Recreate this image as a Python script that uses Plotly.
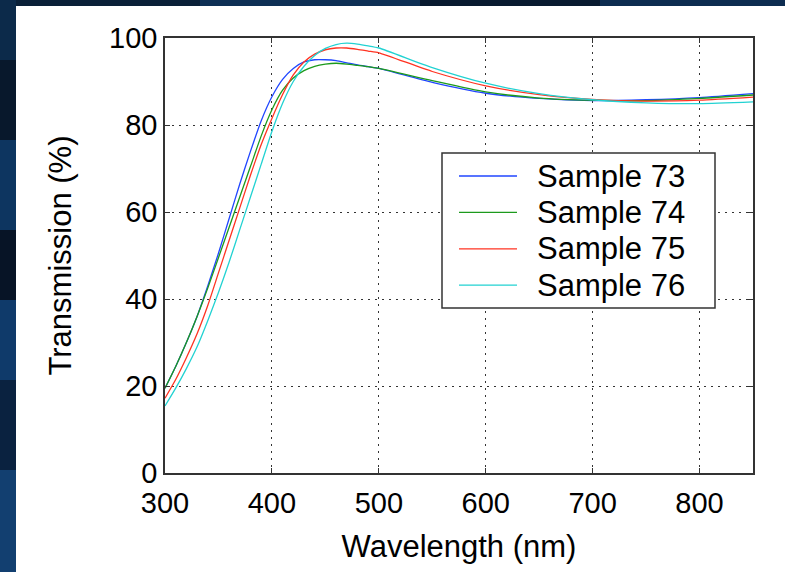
import plotly.graph_objects as go

# ---------------- data ----------------
wavelength = [300, 310, 320, 330, 340, 350, 360, 370, 380, 390, 400,
              410, 420, 430, 440, 450, 460, 470, 480, 490, 500,
              550, 600, 650, 700, 750, 800, 850]

sample_73 = [19.5, 24.5, 30.0, 36.0, 43.0, 50.5, 58.5, 66.5, 74.0, 81.0, 86.5,
             90.5, 93.0, 94.5, 95.0, 95.0, 94.8, 94.3, 93.8, 93.4, 93.0,
             89.8, 87.3, 86.1, 85.6, 85.8, 86.3, 87.2]
sample_74 = [19.5, 24.5, 30.0, 36.0, 42.5, 49.5, 56.5, 63.5, 70.5, 77.5, 83.5,
             88.0, 90.8, 92.5, 93.5, 94.0, 94.2, 94.0, 93.7, 93.4, 93.0,
             90.2, 87.6, 86.2, 85.7, 85.6, 86.1, 86.9]
sample_75 = [17.2, 21.5, 26.5, 32.0, 38.5, 46.0, 53.5, 61.0, 68.5, 75.5, 81.5,
             87.0, 91.5, 94.5, 96.3, 97.3, 97.7, 97.7, 97.4, 97.0, 96.6,
             92.3, 89.0, 87.0, 85.9, 85.5, 85.7, 86.4]
sample_76 = [15.4, 19.5, 24.0, 29.0, 35.0, 41.5, 48.5, 56.0, 63.5, 71.0, 78.5,
             85.0, 90.0, 93.5, 96.0, 97.6, 98.5, 98.8, 98.6, 98.2, 97.7,
             93.2, 89.6, 87.2, 85.8, 85.1, 84.9, 85.3]

series_names = ["Sample 73", "Sample 74", "Sample 75", "Sample 76"]
series_values = [sample_73, sample_74, sample_75, sample_76]
series_colors = ["#2046ff", "#1c9a1c", "#ff3322", "#22d2d2"]

x_ticks = [300, 400, 500, 600, 700, 800]
y_ticks = [0, 20, 40, 60, 80, 100]

# ---------------- figure ----------------
W, H = 785, 572
L, R, T, B = 165, 32, 38, 99
pw, ph = W - L - R, H - T - B


def px_to_paper_x(px):
    return (px - L) / pw


def px_to_paper_y(py):
    return (H - B - py) / ph


FONT = "Liberation Sans, Arial, Helvetica, sans-serif"
BG = "#0a1e36"

fig = go.Figure()
for name, vals, col in zip(series_names, series_values, series_colors):
    fig.add_trace(go.Scatter(
        x=wavelength, y=vals, name=name, mode="lines",
        line=dict(color=col, width=1.3, shape="spline", smoothing=0.6),
        showlegend=False,
    ))

shapes = []
# dark textured backdrop patches (left / top strips)
patches = [
    (0, 0, 16, 60, "#0c2a4a"), (0, 60, 16, 140, "#08182c"),
    (0, 140, 16, 230, "#0d3560"), (0, 230, 16, 300, "#071426"),
    (0, 300, 16, 380, "#0f3a6a"), (0, 380, 16, 470, "#0a2240"),
    (0, 470, 16, 572, "#123f70"),
    (16, 0, 200, 6, "#0a2038"), (200, 0, 420, 6, "#0e3055"),
    (420, 0, 600, 6, "#081a30"), (600, 0, 785, 6, "#0d2c50"),
]
for x0, y0, x1, y1, c in patches:
    shapes.append(dict(type="rect", xref="paper", yref="paper",
                       x0=px_to_paper_x(x0), x1=px_to_paper_x(x1),
                       y0=px_to_paper_y(y0), y1=px_to_paper_y(y1),
                       fillcolor=c, line=dict(width=0), layer="below"))
# white figure area
shapes.append(dict(type="rect", xref="paper", yref="paper",
                   x0=px_to_paper_x(16), x1=px_to_paper_x(W + 5),
                   y0=px_to_paper_y(H + 5), y1=px_to_paper_y(6),
                   fillcolor="white", line=dict(width=0), layer="below"))

# legend box (MATLAB style) built from the series lists
LG_X0, LG_X1, LG_Y0, LG_Y1 = 442, 715, 153, 308
shapes.append(dict(type="rect", xref="paper", yref="paper",
                   x0=px_to_paper_x(LG_X0), x1=px_to_paper_x(LG_X1),
                   y0=px_to_paper_y(LG_Y1), y1=px_to_paper_y(LG_Y0),
                   fillcolor="white", line=dict(color="#333333", width=1.5),
                   layer="above"))
annotations = []
row0, row_step = 176, 36.4
for i, (name, col) in enumerate(zip(series_names, series_colors)):
    yy = px_to_paper_y(row0 + i * row_step)
    shapes.append(dict(type="line", xref="paper", yref="paper",
                       x0=px_to_paper_x(459), x1=px_to_paper_x(517),
                       y0=yy, y1=yy, line=dict(color=col, width=1.3),
                       layer="above"))
    annotations.append(dict(xref="paper", yref="paper",
                            x=px_to_paper_x(535), y=yy,
                            xanchor="left", yanchor="middle",
                            text=name, showarrow=False,
                            font=dict(family=FONT, size=31, color="black")))

axis_common = dict(
    showline=True, linecolor="#333333", linewidth=1.5, mirror="ticks",
    ticks="inside", ticklen=5, tickwidth=1, tickcolor="#333333",
    showgrid=True, gridcolor="#333333", gridwidth=1, griddash="2px,5px",
    zeroline=False,
    tickfont=dict(family=FONT, size=29, color="black"),
)

fig.update_layout(
    width=W, height=H,
    margin=dict(l=L, r=R, t=T, b=B),
    paper_bgcolor=BG,
    plot_bgcolor="white",
    shapes=shapes,
    annotations=annotations,
    showlegend=False,
    hovermode=False,
    xaxis=dict(
        range=[300, 850], tickvals=x_ticks, ticktext=[str(v) for v in x_ticks],
        ticklabelstandoff=3,
        title=dict(text="Wavelength (nm)", standoff=18,
                   font=dict(family=FONT, size=31, color="black")),
        **axis_common,
    ),
    yaxis=dict(
        range=[0, 100], tickvals=y_ticks, ticktext=[str(v) for v in y_ticks],
        title=dict(text="Transmission (%)", standoff=28,
                   font=dict(family=FONT, size=31, color="black")),
        **axis_common,
    ),
)

fig.write_html(
    "out.html",
    config={"displayModeBar": False},
    post_script="document.body.style.margin='0';"
                "document.body.style.background='" + BG + "';",
)
